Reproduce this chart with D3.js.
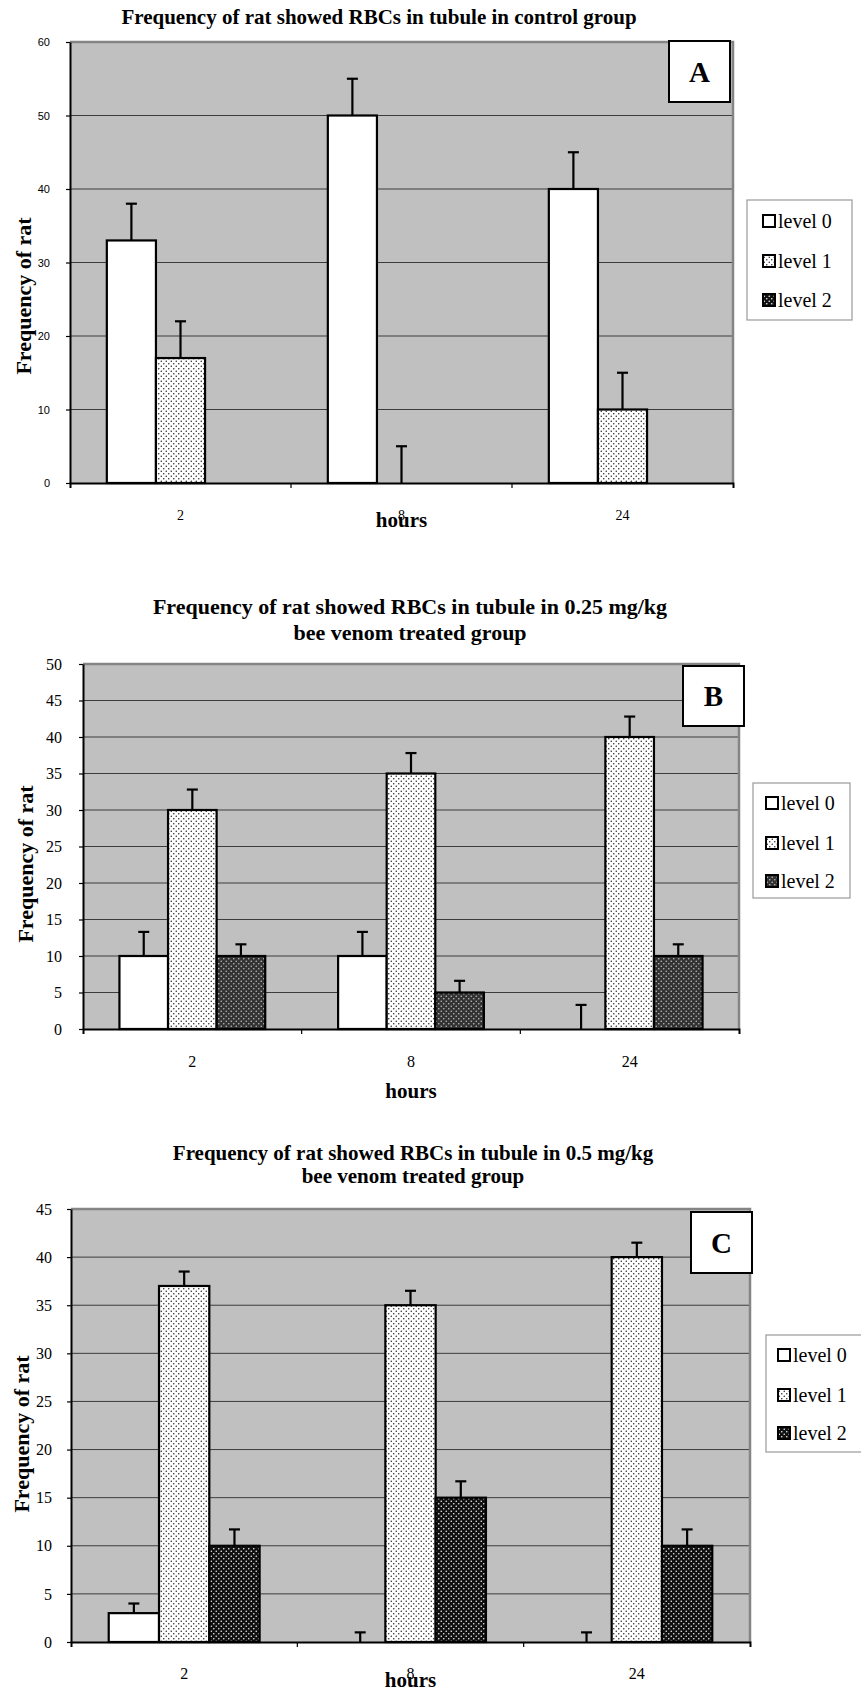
<!DOCTYPE html>
<html>
<head>
<meta charset="utf-8">
<script src="https://cdn.jsdelivr.net/npm/d3@7"></script>
<style>
  body { margin: 0; background: #fff; }
  svg text { font-family: "Liberation Serif", "Times New Roman", serif; fill: #000; }
</style>
</head>
<body>
<svg id="chart" width="861" height="1693"></svg>
<script>
// categories
const hours = ["2", "8", "24"];
const levels = ["level 0", "level 1", "level 2"];

// panel A: control group (rows = level 0,1,2 ; cols = hours)
const controlMeans = [[33, 50, 40], [17, 0, 10], [0, 0, 0]];
const controlErrors = [[5, 5, 5], [5, 5, 5], [null, null, null]];
const controlTicks = [0, 10, 20, 30, 40, 50, 60];

// panel B: 0.25 mg/kg
const lowDoseMeans = [[10, 10, 0], [30, 35, 40], [10, 5, 10]];
const lowDoseErrors = [[3.3, 3.3, 3.3], [2.8, 2.8, 2.8], [1.6, 1.6, 1.6]];
const lowDoseTicks = [0, 5, 10, 15, 20, 25, 30, 35, 40, 45, 50];

// panel C: 0.5 mg/kg
const highDoseMeans = [[3, 0, 0], [37, 35, 40], [10, 15, 10]];
const highDoseErrors = [[1, 1, 1], [1.5, 1.5, 1.5], [1.7, 1.7, 1.7]];
const highDoseTicks = [0, 5, 10, 15, 20, 25, 30, 35, 40, 45];

const svg = d3.select("#chart");
const defs = svg.append("defs");

// dotted fills, like the old Excel patterns
function dotPattern(id, bg, dot, size, r) {
  const p = defs.append("pattern")
    .attr("id", id)
    .attr("patternUnits", "userSpaceOnUse")
    .attr("width", size)
    .attr("height", size);
  p.append("rect").attr("width", size).attr("height", size).attr("fill", bg);
  p.append("circle").attr("cx", size / 4).attr("cy", size / 4).attr("r", r).attr("fill", dot);
  p.append("circle").attr("cx", (3 * size) / 4).attr("cy", (3 * size) / 4).attr("r", r).attr("fill", dot);
}
dotPattern("dots-light", "#fff", "#222", 5, 0.75);
dotPattern("dots-grey", "#333", "#bbb", 5, 0.8);
dotPattern("dots-black", "#111", "#eee", 5, 0.8);

const panels = [
  {
    means: controlMeans, errors: controlErrors, ticks: controlTicks,
    left: 70, right: 733, top: 42, bottom: 483,
    fills: ["#fff", "url(#dots-light)", "url(#dots-black)"],
    title: ["Frequency of rat showed RBCs in tubule in control group"],
    titleX: 379, titleY: 24, titleSize: 21, titleGap: 0,
    tickFont: '"Liberation Sans", Arial, sans-serif', tickSize: 11, tickPad: 16,
    catSize: 14, catY: 520,
    yLabelX: 31, yLabelY: 296,
    hoursY: 527,
    letter: "A", box: [669, 41, 61, 61],
    legend: [747, 200, 105, 120], legendRows: [221, 261, 300], swatchX: 763
  },
  {
    means: lowDoseMeans, errors: lowDoseErrors, ticks: lowDoseTicks,
    left: 83, right: 739, top: 664, bottom: 1029,
    fills: ["#fff", "url(#dots-light)", "url(#dots-grey)"],
    title: ["Frequency of rat showed RBCs in tubule in 0.25 mg/kg", "bee venom treated group"],
    titleX: 410, titleY: 614, titleSize: 22, titleGap: 26,
    tickFont: '"Liberation Serif", "Times New Roman", serif', tickSize: 16, tickPad: 17,
    catSize: 16, catY: 1067,
    yLabelX: 33, yLabelY: 864,
    hoursY: 1098,
    letter: "B", box: [683, 666, 61, 60],
    legend: [753, 783, 97, 115], legendRows: [803, 843, 881], swatchX: 766
  },
  {
    means: highDoseMeans, errors: highDoseErrors, ticks: highDoseTicks,
    left: 71, right: 750, top: 1209, bottom: 1642,
    fills: ["#fff", "url(#dots-light)", "url(#dots-black)"],
    title: ["Frequency of rat showed RBCs in tubule in 0.5 mg/kg", "bee venom treated group"],
    titleX: 413, titleY: 1160, titleSize: 21, titleGap: 23,
    tickFont: '"Liberation Serif", "Times New Roman", serif', tickSize: 16, tickPad: 15,
    catSize: 16, catY: 1679,
    yLabelX: 29, yLabelY: 1434,
    hoursY: 1687,
    letter: "C", box: [691, 1212, 61, 61],
    legend: [766, 1335, 100, 117], legendRows: [1355, 1395, 1433], swatchX: 778
  }
];

panels.forEach(drawPanel);

function drawPanel(p) {
  const g = svg.append("g");

  // Scales
  const y = d3.scaleLinear()
    .domain([0, p.ticks[p.ticks.length - 1]])
    .range([p.bottom, p.top]);
  const x = d3.scaleBand().domain(hours).range([p.left, p.right]);
  const bw = x.bandwidth();
  const xSub = d3.scaleBand().domain(levels).range([bw / 6, (bw * 5) / 6]);

  // plot area
  g.append("rect")
    .attr("x", p.left)
    .attr("y", p.top)
    .attr("width", p.right - p.left)
    .attr("height", p.bottom - p.top)
    .attr("fill", "#c0c0c0");

  g.append("g")
    .selectAll("line")
    .data(p.ticks.slice(1, -1))
    .join("line")
    .attr("x1", p.left)
    .attr("x2", p.right)
    .attr("y1", (d) => y(d))
    .attr("y2", (d) => y(d))
    .attr("stroke", "#3c3c3c")
    .attr("stroke-width", 1);

  g.append("path")
    .attr("d", `M${p.left},${p.top}H${p.right}V${p.bottom}`)
    .attr("fill", "none")
    .attr("stroke", "#858585")
    .attr("stroke-width", 2.5);

  // bars + error bars
  levels.forEach((lv, i) => {
    const rows = hours.map((h, j) => ({ h: h, v: p.means[i][j], e: p.errors[i][j] }));

    g.append("g")
      .selectAll("rect")
      .data(rows.filter((d) => d.v > 0))
      .join("rect")
      .attr("x", (d) => x(d.h) + xSub(lv))
      .attr("y", (d) => y(d.v))
      .attr("width", xSub.bandwidth())
      .attr("height", (d) => y(0) - y(d.v))
      .attr("fill", p.fills[i])
      .attr("stroke", "#000")
      .attr("stroke-width", 2.2);

    const err = g.append("g")
      .selectAll("g")
      .data(rows.filter((d) => d.e != null))
      .join("g")
      .attr("stroke", "#000")
      .attr("stroke-width", 2.2);
    const cx = (d) => x(d.h) + xSub(lv) + xSub.bandwidth() / 2;
    err.append("line")
      .attr("x1", cx).attr("x2", cx)
      .attr("y1", (d) => y(d.v))
      .attr("y2", (d) => y(d.v + d.e));
    err.append("line")
      .attr("x1", (d) => cx(d) - 5.5)
      .attr("x2", (d) => cx(d) + 5.5)
      .attr("y1", (d) => y(d.v + d.e))
      .attr("y2", (d) => y(d.v + d.e));
  });

  // Axis
  const yAxis = d3.axisLeft(y).tickValues(p.ticks).tickSize(4).tickSizeOuter(0).tickPadding(p.tickPad);
  const yG = g.append("g").attr("transform", `translate(${p.left},0)`).call(yAxis);
  yG.select(".domain").attr("stroke", "#000").attr("stroke-width", 2);
  yG.selectAll(".tick line").attr("stroke", "#000").attr("stroke-width", 1.2);
  yG.selectAll("text")
    .style("font-family", p.tickFont)
    .style("font-size", p.tickSize + "px")
    .attr("fill", "#222");

  const xAxis = d3.axisBottom(x).tickSize(0).tickSizeOuter(5).tickPadding(0);
  const xG = g.append("g").attr("transform", `translate(0,${p.bottom})`).call(xAxis);
  xG.select(".domain").attr("stroke", "#000").attr("stroke-width", 2);
  xG.selectAll("text")
    .attr("y", p.catY - p.bottom)
    .attr("dy", null)
    .style("font-family", '"Liberation Serif", "Times New Roman", serif')
    .style("font-size", p.catSize + "px")
    .attr("fill", "#222");
  // tick marks between the hour groups
  xG.append("g")
    .selectAll("line")
    .data(hours.slice(0, -1))
    .join("line")
    .attr("x1", (d) => x(d) + bw)
    .attr("x2", (d) => x(d) + bw)
    .attr("y1", 0)
    .attr("y2", 5)
    .attr("stroke", "#000")
    .attr("stroke-width", 1.2);

  // titles
  p.title.forEach((t, k) => {
    g.append("text")
      .attr("x", p.titleX)
      .attr("y", p.titleY + k * p.titleGap)
      .attr("text-anchor", "middle")
      .style("font-size", p.titleSize + "px")
      .style("font-weight", "bold")
      .text(t);
  });

  g.append("text")
    .attr("transform", `translate(${p.yLabelX},${p.yLabelY}) rotate(-90)`)
    .attr("text-anchor", "middle")
    .style("font-size", "22px")
    .style("font-weight", "bold")
    .text("Frequency of rat");

  g.append("text")
    .attr("x", (p.left + p.right) / 2)
    .attr("y", p.hoursY)
    .attr("text-anchor", "middle")
    .style("font-size", "21px")
    .style("font-weight", "bold")
    .text("hours");

  // panel letter
  g.append("rect")
    .attr("x", p.box[0]).attr("y", p.box[1])
    .attr("width", p.box[2]).attr("height", p.box[3])
    .attr("fill", "#fff")
    .attr("stroke", "#000")
    .attr("stroke-width", 2);
  g.append("text")
    .attr("x", p.box[0] + p.box[2] / 2)
    .attr("y", p.box[1] + p.box[3] / 2 + 10)
    .attr("text-anchor", "middle")
    .style("font-size", "29px")
    .style("font-weight", "bold")
    .text(p.letter);

  // Legend
  g.append("rect")
    .attr("x", p.legend[0]).attr("y", p.legend[1])
    .attr("width", p.legend[2]).attr("height", p.legend[3])
    .attr("fill", "#fff")
    .attr("stroke", "#999")
    .attr("stroke-width", 1.2);
  const items = g.append("g")
    .selectAll("g")
    .data(levels)
    .join("g")
    .attr("transform", (d, i) => `translate(${p.swatchX},${p.legendRows[i]})`);
  items.append("rect")
    .attr("x", 0).attr("y", -6)
    .attr("width", 12).attr("height", 12)
    .attr("fill", (d, i) => p.fills[i])
    .attr("stroke", "#000")
    .attr("stroke-width", 2);
  items.append("text")
    .attr("x", 15)
    .attr("y", 7)
    .style("font-size", "20px")
    .text((d) => d);
}
</script>
</body>
</html>
